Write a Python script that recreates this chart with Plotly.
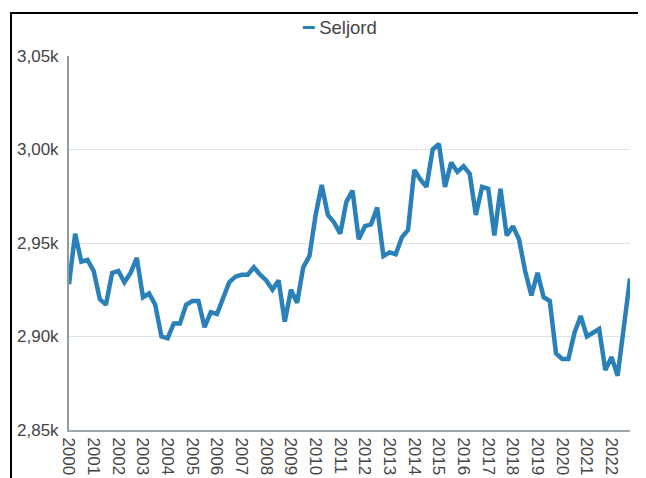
import plotly.graph_objects as go
import pandas as pd

series_name = "Seljord"
start_quarter = "2000-01-01"
values = [
    2928, 2955, 2940, 2941, 2935, 2920, 2917, 2934, 2935, 2929,
    2934, 2942, 2921, 2923, 2917, 2900, 2899, 2907, 2907, 2917,
    2919, 2919, 2905, 2913, 2912, 2921, 2929, 2932, 2933, 2933,
    2937, 2933, 2930, 2925, 2930, 2908, 2925, 2918, 2937, 2943,
    2965, 2981, 2965, 2961, 2955, 2972, 2978, 2952, 2959, 2960,
    2969, 2943, 2945, 2944, 2953, 2957, 2989, 2984, 2980, 3000,
    3003, 2980, 2993, 2988, 2991, 2987, 2965, 2980, 2979, 2954,
    2979, 2954, 2959, 2952, 2935, 2922, 2934, 2921, 2919, 2891,
    2888, 2888, 2902, 2911, 2900, 2902, 2904, 2882, 2889, 2879,
    2905, 2931,
]
dates = pd.date_range(start_quarter, periods=len(values), freq="QS")

y_ticks = [2850, 2900, 2950, 3000, 3050]

line_color = "#2a80b9"
text_color = "#444444"
font_family = "Liberation Sans, Arial, sans-serif"

fig = go.Figure()
fig.add_trace(go.Scatter(
    x=dates, y=values, mode="lines", name=series_name,
    line=dict(color=line_color, width=4.5),
    showlegend=False,
))

# the page body has an 8px margin, so figure pixels = page pixels - 8
OFF = 8
W, H = 646, 478
ml, mt = 69 - OFF, 56 - OFF
mr = W - (630 - OFF)
mb = H - (430 - OFF)
pw = W - ml - mr
ph = H - mt - mb

def px_x(p):
    return (p - OFF - ml) / pw

def px_y(p):
    return 1 + (mt - (p - OFF)) / ph

fig.update_layout(
    width=W, height=H,
    margin=dict(l=ml, r=mr, t=mt, b=mb, pad=0, autoexpand=False),
    paper_bgcolor="white", plot_bgcolor="white",
    separators=", ",
    font=dict(family=font_family, size=17, color=text_color),
    xaxis=dict(
        type="date",
        range=[dates[0], dates[-1]],
        dtick="M12", tick0=start_quarter, tickformat="%Y",
        tickangle=90,
        showgrid=False,
        showline=True, linecolor="#9aa5ae", linewidth=2,
        ticks="", ticklabelstandoff=2,
        automargin=False,
        tickfont=dict(size=17, color=text_color),
    ),
    yaxis=dict(
        range=[2850, 3050],
        tickvals=y_ticks,
        tickformat=".3s",
        showgrid=True, gridcolor="#dce3e8", gridwidth=1,
        showline=True, linecolor="#8f9aa3", linewidth=2,
        zeroline=False,
        ticks="", ticklabelstandoff=5,
        automargin=False,
        tickfont=dict(size=17, color=text_color),
    ),
    annotations=[dict(
        xref="paper", yref="paper",
        x=px_x(339), y=px_y(28),
        xanchor="center", yanchor="middle",
        showarrow=False,
        text="<span style='color:%s'>━</span> %s" % (line_color, series_name),
        font=dict(size=18.5, color=text_color, family=font_family),
    )],
    shapes=[dict(
        type="rect", xref="paper", yref="paper",
        x0=px_x(11), x1=2, y0=-1, y1=px_y(13),
        line=dict(color="black", width=2),
        fillcolor="rgba(0,0,0,0)",
        layer="above",
    )],
)

fig.write_html("out.html")
